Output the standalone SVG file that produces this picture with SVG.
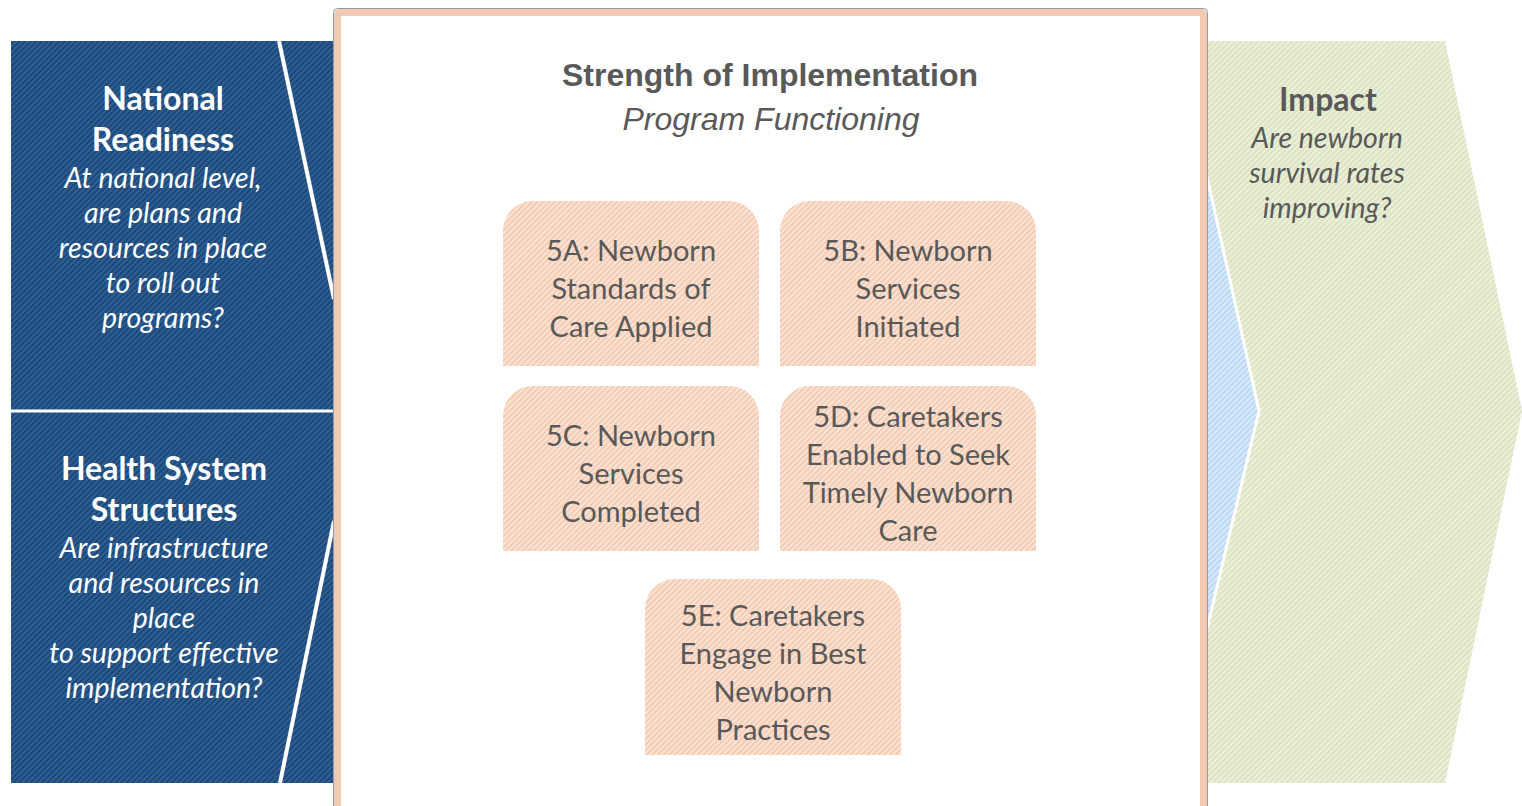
<svg xmlns="http://www.w3.org/2000/svg" width="1522" height="806" viewBox="0 0 1522 806">
  <defs>
    <pattern id="pNavy" patternUnits="userSpaceOnUse" width="4" height="4" patternTransform="rotate(45)">
      <rect width="4" height="4" fill="#1B4877"/>
      <rect width="2" height="4" fill="#305F95"/>
    </pattern>
    <pattern id="pGreen" patternUnits="userSpaceOnUse" width="4" height="4" patternTransform="rotate(45)">
      <rect width="4" height="4" fill="#DCE3C2"/>
      <rect width="2" height="4" fill="#EBF0DA"/>
    </pattern>
    <pattern id="pBlue" patternUnits="userSpaceOnUse" width="4" height="4" patternTransform="rotate(45)">
      <rect width="4" height="4" fill="#B9D9F8"/>
      <rect width="2" height="4" fill="#DCE9F5"/>
    </pattern>
    <pattern id="pSalmon" patternUnits="userSpaceOnUse" width="4" height="4" patternTransform="rotate(45)">
      <rect width="4" height="4" fill="#F4CBB3"/>
      <rect width="2" height="4" fill="#FBE3D5"/>
    </pattern>
  </defs>
  <style>
    .ttl { font-family: Lato, "Liberation Sans", sans-serif; font-weight: bold; font-size: 32px; text-anchor: middle; }
    .sub { font-family: Lato, "Liberation Sans", sans-serif; font-style: italic; font-size: 28.5px; text-anchor: middle; }
    .w { fill: #FFFFFF; }
    .g { fill: #595959; }
    .hdr { font-family: "Liberation Sans", Arial, sans-serif; font-size: 32px; text-anchor: middle; fill: #595959; }
    .box { fill: url(#pSalmon); }
    .bt { font-family: Lato, "Liberation Sans", sans-serif; font-size: 29px; text-anchor: middle; fill: #595959; }
    .wl { stroke: #FFFFFF; fill: none; }
  </style>

  <!-- Background chevrons -->
  <g id="readiness-panel">
    <rect x="11" y="41" width="322" height="742" fill="url(#pNavy)"/>
    <line class="wl" x1="279" y1="41" x2="334" y2="299" stroke-width="4"/>
    <line class="wl" x1="334" y1="521" x2="280" y2="783" stroke-width="4"/>
    <line class="wl" x1="11" y1="411" x2="333" y2="411" stroke-width="3"/>
  </g>

  <g id="impact-panel">
    <polygon points="1207,41 1445,41 1522,411 1445,783 1207,783" fill="url(#pGreen)"/>
    <polygon points="1190,100 1259,411 1190,700" fill="url(#pBlue)" stroke="#FFFFFF" stroke-width="3"/>
  </g>

  <!-- Central box -->
  <g id="implementation-frame">
    <rect x="333.5" y="8.5" width="874" height="810" rx="4" fill="#FFFFFF" stroke="#8F99A8" stroke-width="1"/>
    <rect x="337.5" y="12.5" width="866" height="810" rx="2" fill="#FFFFFF" stroke="#F2CAB4" stroke-width="7"/>
    <text class="hdr" x="770" y="86" font-weight="bold" font-size="31">Strength of Implementation</text>
    <text class="hdr" x="771" y="130" font-style="italic">Program Functioning</text>
  </g>

  <g id="national-readiness">
    <text class="ttl w" x="163" y="110">National</text>
    <text class="ttl w" x="163" y="151">Readiness</text>
    <text class="sub w" x="163" y="188">At national level,</text>
    <text class="sub w" x="163" y="223">are plans and</text>
    <text class="sub w" x="163" y="258">resources in place</text>
    <text class="sub w" x="163" y="293">to roll out</text>
    <text class="sub w" x="163" y="328">programs?</text>
  </g>

  <g id="health-system">
    <text class="ttl w" x="164" y="480">Health System</text>
    <text class="ttl w" x="164" y="521">Structures</text>
    <text class="sub w" x="164" y="558">Are infrastructure</text>
    <text class="sub w" x="164" y="593">and resources in</text>
    <text class="sub w" x="164" y="628">place</text>
    <text class="sub w" x="164" y="663">to support effective</text>
    <text class="sub w" x="164" y="698">implementation?</text>
  </g>

  <g id="impact">
    <text class="ttl g" x="1328" y="111" font-size="34">Impact</text>
    <text class="sub g" x="1327" y="148">Are newborn</text>
    <text class="sub g" x="1327" y="183">survival rates</text>
    <text class="sub g" x="1327" y="218">improving?</text>
  </g>

  <g id="box-5A">
    <path class="box" d="M503,366 V231 A30,30 0 0 1 533,201 H729 A30,30 0 0 1 759,231 V366 Z"/>
    <text class="bt" x="631" y="261">5A: Newborn</text>
    <text class="bt" x="631" y="299">Standards of</text>
    <text class="bt" x="631" y="337">Care Applied</text>
  </g>

  <g id="box-5B">
    <path class="box" d="M780,366 V231 A30,30 0 0 1 810,201 H1006 A30,30 0 0 1 1036,231 V366 Z"/>
    <text class="bt" x="908" y="261">5B: Newborn</text>
    <text class="bt" x="908" y="299">Services</text>
    <text class="bt" x="908" y="337">Initiated</text>
  </g>

  <g id="box-5C">
    <path class="box" d="M503,551 V416 A30,30 0 0 1 533,386 H729 A30,30 0 0 1 759,416 V551 Z"/>
    <text class="bt" x="631" y="446">5C: Newborn</text>
    <text class="bt" x="631" y="484">Services</text>
    <text class="bt" x="631" y="522">Completed</text>
  </g>

  <g id="box-5D">
    <path class="box" d="M780,551 V416 A30,30 0 0 1 810,386 H1006 A30,30 0 0 1 1036,416 V551 Z"/>
    <text class="bt" x="908" y="427">5D: Caretakers</text>
    <text class="bt" x="908" y="465">Enabled to Seek</text>
    <text class="bt" x="908" y="503">Timely Newborn</text>
    <text class="bt" x="908" y="541">Care</text>
  </g>

  <g id="box-5E">
    <path class="box" d="M645,755 V609 A30,30 0 0 1 675,579 H871 A30,30 0 0 1 901,609 V755 Z"/>
    <text class="bt" x="773" y="626">5E: Caretakers</text>
    <text class="bt" x="773" y="664">Engage in Best</text>
    <text class="bt" x="773" y="702">Newborn</text>
    <text class="bt" x="773" y="740">Practices</text>
  </g>

  <g id="connectors"></g>
</svg>
